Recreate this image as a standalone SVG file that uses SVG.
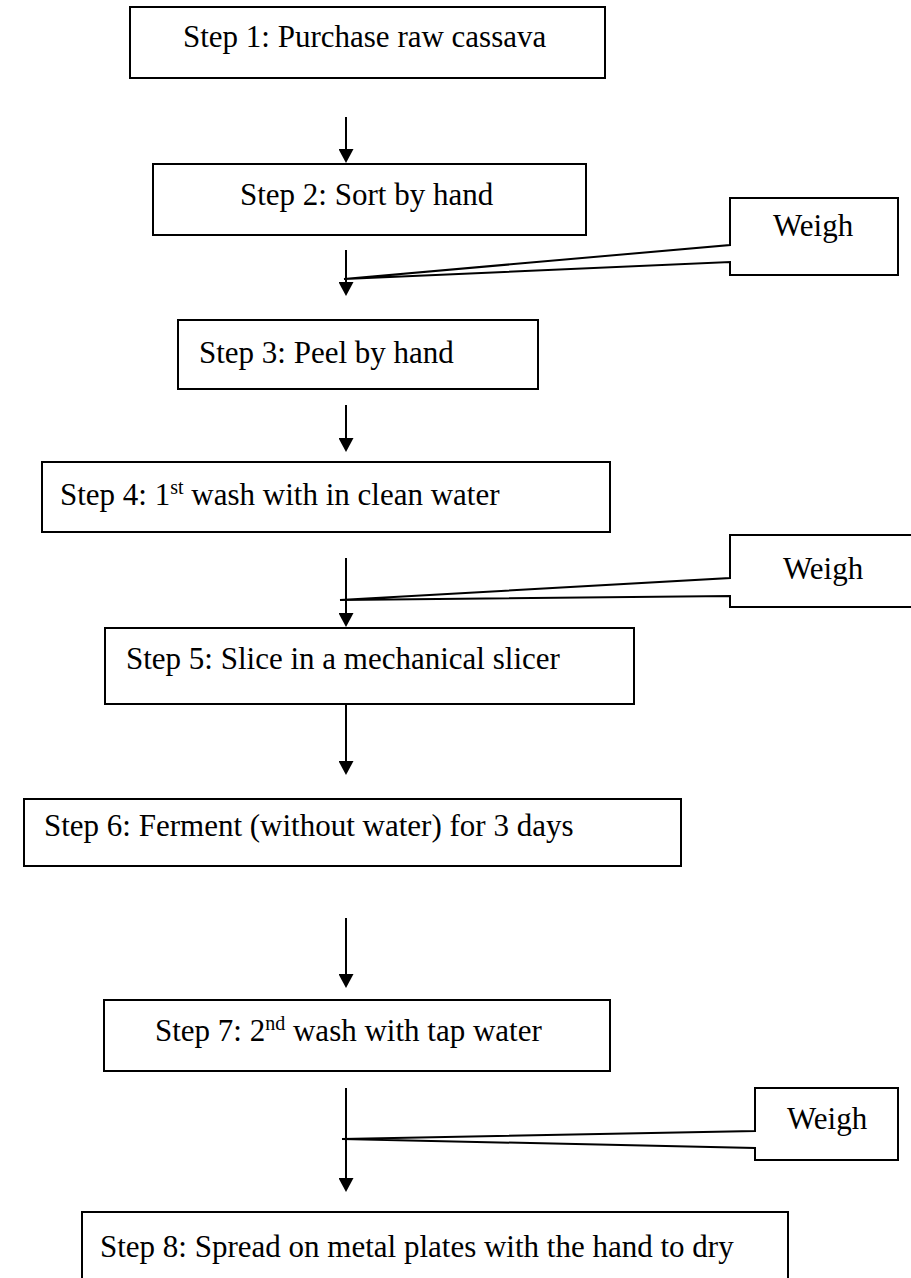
<svg xmlns="http://www.w3.org/2000/svg" width="911" height="1278" viewBox="0 0 911 1278">
  <style>
    .box { fill: #ffffff; stroke: #000000; stroke-width: 2; }
    .lbl { font-family: "Liberation Serif", "Times New Roman", serif; font-size: 31px; fill: #000000; }
    .sup { font-size: 20px; }
    .flow { stroke: #000000; stroke-width: 2; fill: none; marker-end: url(#arrow); }
  </style>
  <defs>
    <marker id="arrow" viewBox="0 0 14 15" refX="11" refY="7.5" markerWidth="14" markerHeight="15" markerUnits="userSpaceOnUse" orient="auto">
      <path d="M0,0 L14,7.5 L0,15 Z" fill="#000000"/>
    </marker>
  </defs>
  <rect width="911" height="1278" fill="#ffffff"/>

  <!-- process steps -->
  <g id="step1">
    <rect class="box" x="130" y="7" width="475" height="71"/>
    <text class="lbl" x="183" y="47">Step 1: Purchase raw cassava</text>
  </g>
  <g id="step2">
    <rect class="box" x="153" y="164" width="433" height="71"/>
    <text class="lbl" x="240" y="205">Step 2: Sort by hand</text>
  </g>
  <g id="step3">
    <rect class="box" x="178" y="320" width="360" height="69"/>
    <text class="lbl" x="199" y="363">Step 3: Peel by hand</text>
  </g>
  <g id="step4">
    <rect class="box" x="42" y="462" width="568" height="70"/>
    <text class="lbl" x="60" y="505">Step 4: 1<tspan class="sup" dy="-11">st</tspan><tspan dy="11"> wash with in clean water</tspan></text>
  </g>
  <g id="step5">
    <rect class="box" x="105" y="628" width="529" height="76"/>
    <text class="lbl" x="126" y="669">Step 5: Slice in a mechanical slicer</text>
  </g>
  <g id="step6">
    <rect class="box" x="24" y="799" width="657" height="67"/>
    <text class="lbl" x="44" y="836">Step 6: Ferment (without water) for 3 days</text>
  </g>
  <g id="step7">
    <rect class="box" x="104" y="1000" width="506" height="71"/>
    <text class="lbl" x="155" y="1041">Step 7: 2<tspan class="sup" dy="-11">nd</tspan><tspan dy="11"> wash with tap water</tspan></text>
  </g>
  <g id="step8">
    <rect class="box" x="82" y="1212" width="706" height="80"/>
    <text class="lbl" x="100" y="1257">Step 8: Spread on metal plates with the hand to dry</text>
  </g>

  <!-- connectors between steps -->
  <g id="connectors">
    <line class="flow" x1="346" y1="117" x2="346" y2="160"/>
    <line class="flow" x1="346" y1="250" x2="346" y2="293"/>
    <line class="flow" x1="346" y1="405" x2="346" y2="449"/>
    <line class="flow" x1="346" y1="558" x2="346" y2="624"/>
    <line class="flow" x1="346" y1="704" x2="346" y2="772"/>
    <line class="flow" x1="346" y1="918" x2="346" y2="985"/>
    <line class="flow" x1="346" y1="1088" x2="346" y2="1189"/>
  </g>

  <!-- weighing callouts: box with a wedge pointing at the flow line -->
  <g id="weigh1">
    <path class="box" d="M730,198 H898 V275 H730 V262 L344,279 L730,245 Z"/>
    <text class="lbl" x="773" y="236">Weigh</text>
  </g>
  <g id="weigh2">
    <path class="box" d="M730,535 H915 V607 H730 V596 L340,600 L730,578 Z"/>
    <text class="lbl" x="783" y="579">Weigh</text>
  </g>
  <g id="weigh3">
    <path class="box" d="M755,1088 H898 V1160 H755 V1148 L342,1139 L755,1131 Z"/>
    <text class="lbl" x="787" y="1129">Weigh</text>
  </g>
</svg>
